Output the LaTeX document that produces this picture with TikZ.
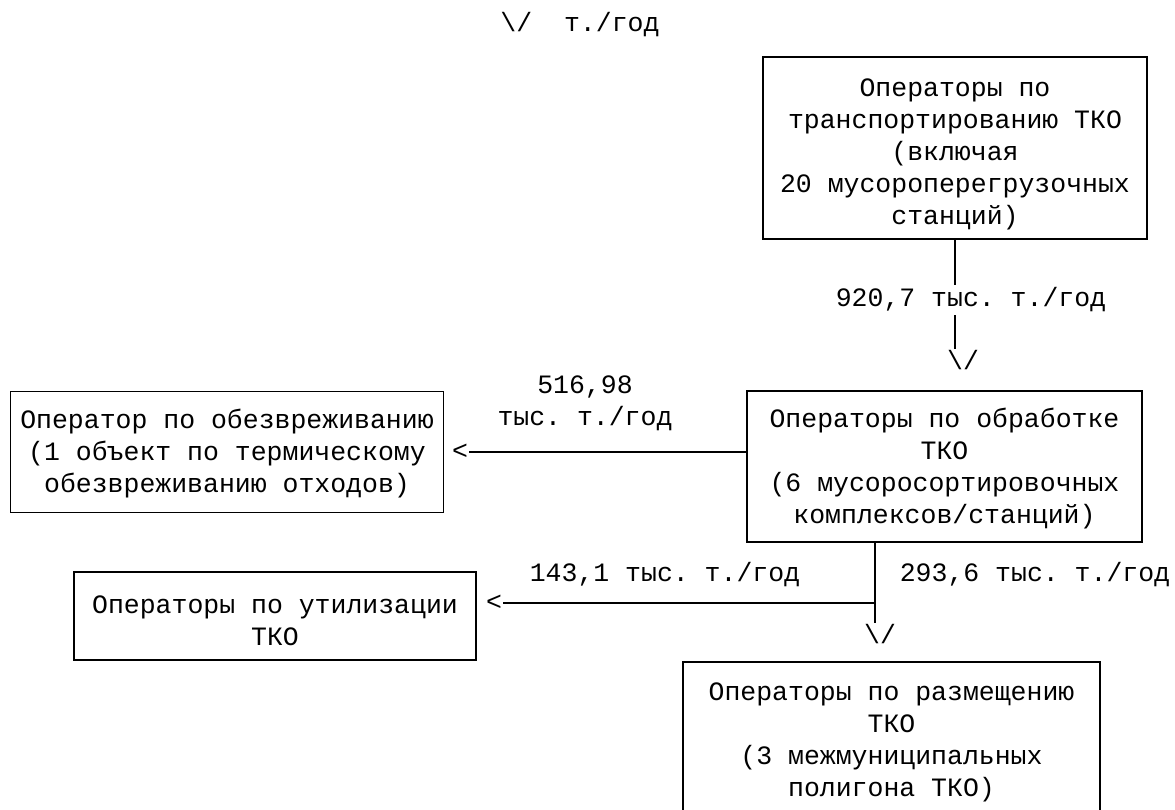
\documentclass[tikz,border=0pt]{standalone}
\usepackage{fontspec}
\setmainfont{Liberation Mono}
\usetikzlibrary{positioning}
\frenchspacing

\begin{document}
\begin{tikzpicture}[x=1pt, y=-1pt, line width=1.9pt,
  font=\fontsize{26.5}{32}\selectfont,
  box/.style={draw, rectangle, align=center, inner sep=0pt},
  flow/.style={align=center, inner sep=2pt},
  tip/.style={inner sep=0pt}]

\useasboundingbox (0,0) rectangle (1175,810);

\node[flow] (head) at (580,25) {\textbackslash/\ \ т./год};

% boxes
\node[box, minimum width=384pt, minimum height=182pt] (trans) at (955,148)
  {\rule{0pt}{30pt}Операторы по\\транспортированию ТКО\\(включая\\20 мусороперегрузочных\\станций)};
\node[box, minimum width=395pt, minimum height=151pt] (obr) at (944.5,466.5)
  {\rule{0pt}{24pt}Операторы по обработке\\ТКО\\(6 мусоросортировочных\\комплексов/станций)};
\node[box, minimum width=433pt, minimum height=121pt] (obez) at (227,452)
  {\rule{0pt}{23pt}Оператор по обезвреживанию\\(1 объект по термическому\\обезвреживанию отходов)};
\node[box, minimum width=402pt, minimum height=88pt] (util) at (275,616)
  {\rule{0pt}{28pt}Операторы по утилизации\\ТКО};
\node[box, minimum width=417pt, minimum height=153pt] (razm) at (891.5,738.5)
  {\rule{0pt}{25pt}Операторы по размещению\\ТКО\\(3 межмуниципальных\\полигона ТКО)};

% transport -> processing
\node[flow] (q920) at (971,300) {920,7 тыс. т./год};
\node[tip] (t920) at (963,360) {\textbackslash/};
\draw (trans.south) -- (trans.south |- q920.north);
\draw (trans.south |- q920.south) -- (trans.south |- t920.north);

% processing -> neutralisation
\node[flow] (q516) at (585,403) {516,98\\тыс. т./год};
\node[tip] (t516) at (460,452) {<};
\draw (obr.west |- t516) -- (t516.east);

% processing -> recycling and disposal
\coordinate (split) at (875,603);
\node[flow] (q143) at (665,575) {143,1 тыс. т./год};
\node[flow] (q293) at (1035,575) {293,6 тыс. т./год};
\node[tip] (t143) at (494,603) {<};
\node[tip] (t293) at (880,634) {\textbackslash/};
\draw (obr.south -| split) -- (split |- t293.north);
\draw (split) -- (t143.east);

\end{tikzpicture}
\end{document}
